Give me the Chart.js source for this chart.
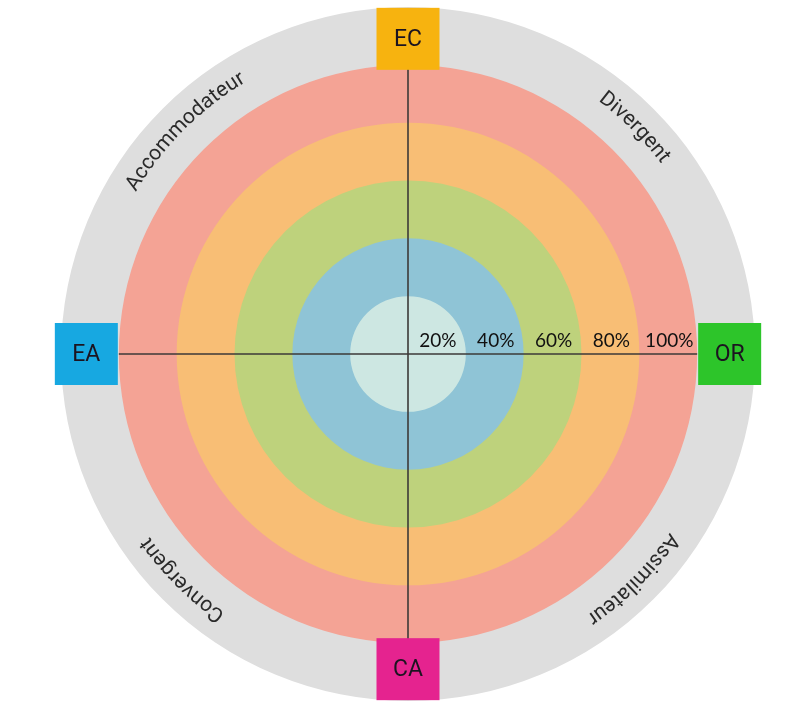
<!DOCTYPE html>
<html>
<head>
<meta charset="utf-8">
<script src="https://cdn.jsdelivr.net/npm/chart.js@4/dist/chart.umd.min.js"></script>
<style>
  html, body { margin: 0; padding: 0; background: #ffffff; }
  #wrap { width: 785px; height: 713px; }
</style>
</head>
<body>
<div id="wrap"><canvas id="c" width="785" height="713"></canvas></div>
<script>
// ---- data ----
const ringLevels = [20, 40, 60, 80, 100, 120];
const ringLabels = ['20%', '40%', '60%', '80%', '100%', ''];
const axisLabels = ['EC', 'OR', 'CA', 'EA'];          // top, right, bottom, left
const styleLabels = ['Divergent', 'Assimilateur', 'Convergent', 'Accommodateur']; // NE, SE, SW, NW
const styleAngles = [-45, 45, 135, -135];              // degrees, canvas orientation

// ---- styles ----
const ringColors = ['#cde7e2', '#8fc4d6', '#bed27c', '#f8be75', '#f4a395', '#dedede'];
const axisColors = ['#f7b30f', '#2dc52a', '#e5238f', '#17a8e1'];

const pctRing = ringLevels.slice(0, 5);

const decor = {
  id: 'decor',
  afterDatasetsDraw(chart) {
    const ctx = chart.ctx;
    const s = chart.scales.r;
    const cx = s.xCenter, cy = s.yCenter;
    const R = v => s.getDistanceFromCenterForValue(v);
    const rIn = R(100), rOut = R(120);
    ctx.save();
    // axes lines
    ctx.strokeStyle = '#3d3a38';
    ctx.lineWidth = 1.6;
    ctx.beginPath();
    ctx.moveTo(cx - rIn, cy); ctx.lineTo(cx + rIn, cy);
    ctx.moveTo(cx, cy - rIn); ctx.lineTo(cx, cy + rIn);
    ctx.stroke();

    // percentage labels
    ctx.fillStyle = '#111';
    ctx.font = '19px Lato';
    ctx.textAlign = 'center';
    ctx.textBaseline = 'alphabetic';
    let prev = 0;
    pctRing.forEach((v, i) => {
      const mid = (R(prev) + R(v)) / 2;
      ctx.fillText(ringLabels[i], cx + mid + 1, cy - 7);
      prev = v;
    });

    // boxes
    const bw = 63, bh = 62;
    const boxMid = rIn + bw / 2 + 1;
    const pos = [
      [cx, cy - (rIn - 5) - bh / 2],
      [cx + boxMid, cy],
      [cx, cy + (rIn - 5) + bh / 2],
      [cx - boxMid, cy]
    ];
    ctx.font = '23px Roboto';
    ctx.textBaseline = 'middle';
    axisLabels.forEach((lab, i) => {
      const [x, y] = pos[i];
      ctx.fillStyle = axisColors[i];
      ctx.fillRect(x - bw / 2, y - bh / 2, bw, bh);
      ctx.fillStyle = '#1c1420';
      ctx.fillText(lab, x, y + 1);
    });

    // curved labels
    const rText = (rIn + rOut) / 2 + 4;
    ctx.font = '21px Roboto';
    ctx.fillStyle = '#2a2a2a';
    ctx.textBaseline = 'middle';
    ctx.textAlign = 'center';
    const spacing = 0.3;
    styleLabels.forEach((txt, i) => {
      const chars = txt.split('');
      const widths = chars.map(ch => ctx.measureText(ch).width + spacing);
      const total = widths.reduce((a, b) => a + b, 0) - spacing;
      let a = styleAngles[i] * Math.PI / 180 - total / rText / 2;
      chars.forEach((ch, k) => {
        const w = widths[k] - spacing;
        const ac = a + (w / 2) / rText;
        ctx.save();
        ctx.translate(cx + rText * Math.cos(ac), cy + rText * Math.sin(ac));
        ctx.rotate(ac + Math.PI / 2);
        ctx.fillText(ch, 0, 0);
        ctx.restore();
        a += widths[k] / rText;
      });
    });
    ctx.restore();
  }
};

function build() {
  new Chart(document.getElementById('c'), {
    type: 'polarArea',
    data: {
      labels: ['niveau'],
      datasets: ringLevels.map((v, i) => ({
        label: ringLabels[i],
        data: [v],
        backgroundColor: ringColors[i],
        borderWidth: 0
      }))
    },
    options: {
      responsive: false,
      animation: false,
      layout: { padding: { left: 61, right: 30, top: 7, bottom: 12 } },
      plugins: { legend: { display: false }, tooltip: { enabled: false } },
      scales: {
        r: {
          min: 0, max: 120,
          grid: { display: false },
          angleLines: { display: false },
          ticks: { display: false },
          pointLabels: { display: false }
        }
      }
    },
    plugins: [decor]
  });
}
Promise.all([
  document.fonts.load('21px Roboto'),
  document.fonts.load('19px Lato')
]).then(build, build);
</script>
</body>
</html>
